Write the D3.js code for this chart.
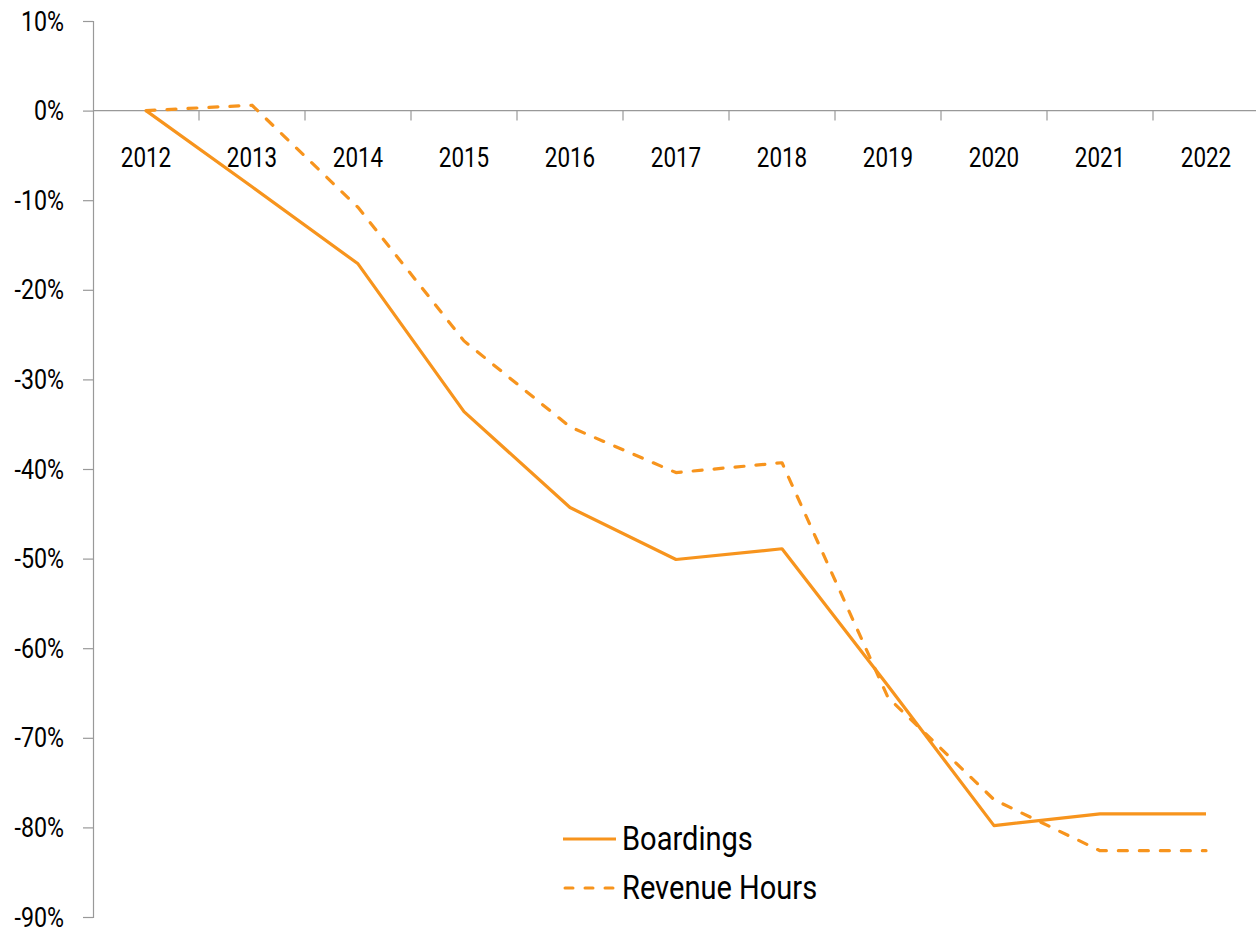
<!DOCTYPE html>
<html>
<head>
<meta charset="utf-8">
<script src="https://cdn.jsdelivr.net/npm/d3@7"></script>
<style>
  html, body { margin: 0; padding: 0; background: #fff; }
  svg { display: block; font-family: "Roboto", "Liberation Sans", sans-serif; }
</style>
</head>
<body>
<svg id="chart" width="1256" height="928"></svg>
<script>
const years = ["2012","2013","2014","2015","2016","2017","2018","2019","2020","2021","2022"];
const boardings = [0, -8.5, -17.1, -33.6, -44.3, -50.1, -48.9, -64.2, -79.8, -78.5, -78.5];
const revenueHours = [0, 0.6, -10.8, -25.7, -35.3, -40.4, -39.3, -65.5, -76.9, -82.6, -82.6];
const yTicks = [10, 0, -10, -20, -30, -40, -50, -60, -70, -80, -90];
const seriesNames = ["Boardings", "Revenue Hours"];

const svg = d3.select("#chart");
const orange = "#F7941D";
const axisColor = "#999999";

function condensedText(g, x, y, txt, size, anchor, sq) {
  return g.append("text")
    .attr("transform", `translate(${x},${y}) scale(${sq},1)`)
    .attr("text-anchor", anchor)
    .attr("dy", "0.355em")
    .attr("font-size", size)
    .attr("fill", "#000")
    .text(txt);
}

const x = d3.scaleBand().domain(years).range([93, 1259]).padding(0);
const y = d3.scaleLinear().domain([-90, 10]).range([917, 21]);

// Y axis (line + ticks via d3 axis, labels custom condensed)
const yAxis = svg.append("g").attr("transform", "translate(93,0)")
  .call(d3.axisLeft(y).tickValues(yTicks).tickSize(10).tickFormat(""));
yAxis.select(".domain").attr("stroke", axisColor).attr("stroke-width", 1.2);
yAxis.selectAll(".tick line").attr("stroke", axisColor).attr("stroke-width", 1.2);
const yLab = svg.append("g");
yTicks.forEach(t => condensedText(yLab, 64, y(t), t + "%", 27, "end", 0.86));

// X axis at 0
const x0 = y(0);
svg.append("line").attr("x1", 93).attr("x2", 1256).attr("y1", x0).attr("y2", x0)
  .attr("stroke", axisColor).attr("stroke-width", 1.2);
svg.append("g").selectAll("line").data(years.slice(1)).join("line")
  .attr("x1", d => x(d)).attr("x2", d => x(d))
  .attr("y1", x0).attr("y2", x0 + 10)
  .attr("stroke", axisColor).attr("stroke-width", 1.2);
const xLab = svg.append("g");
years.forEach(yr => condensedText(xLab, x(yr) + x.bandwidth() / 2, 157, yr, 27, "middle", 0.83));

// Lines
const line = d3.line()
  .x((d, i) => x(years[i]) + x.bandwidth() / 2)
  .y(d => y(d));

svg.append("path").datum(boardings)
  .attr("d", line).attr("fill", "none")
  .attr("stroke", orange).attr("stroke-width", 3.2).attr("stroke-linejoin", "round");

svg.append("path").datum(revenueHours)
  .attr("d", line).attr("fill", "none")
  .attr("stroke", orange).attr("stroke-width", 3.2).attr("stroke-dasharray", "9,12")
  .attr("stroke-linecap", "round").attr("stroke-linejoin", "round");

// Legend
const legend = svg.append("g");
const legendItems = [
  { name: seriesNames[0], dash: null, cap: "butt", y: 839 },
  { name: seriesNames[1], dash: "8,12", cap: "round", y: 888 }
];
legendItems.forEach(it => {
  legend.append("line").attr("x1", it.dash ? 565 : 563).attr("x2", 616).attr("y1", it.y).attr("y2", it.y)
    .attr("stroke", orange).attr("stroke-width", 3)
    .attr("stroke-linecap", it.cap)
    .attr("stroke-dasharray", it.dash);
  condensedText(legend, 622, it.y - 1, it.name, 33, "start", 0.88);
});
</script>
</body>
</html>
